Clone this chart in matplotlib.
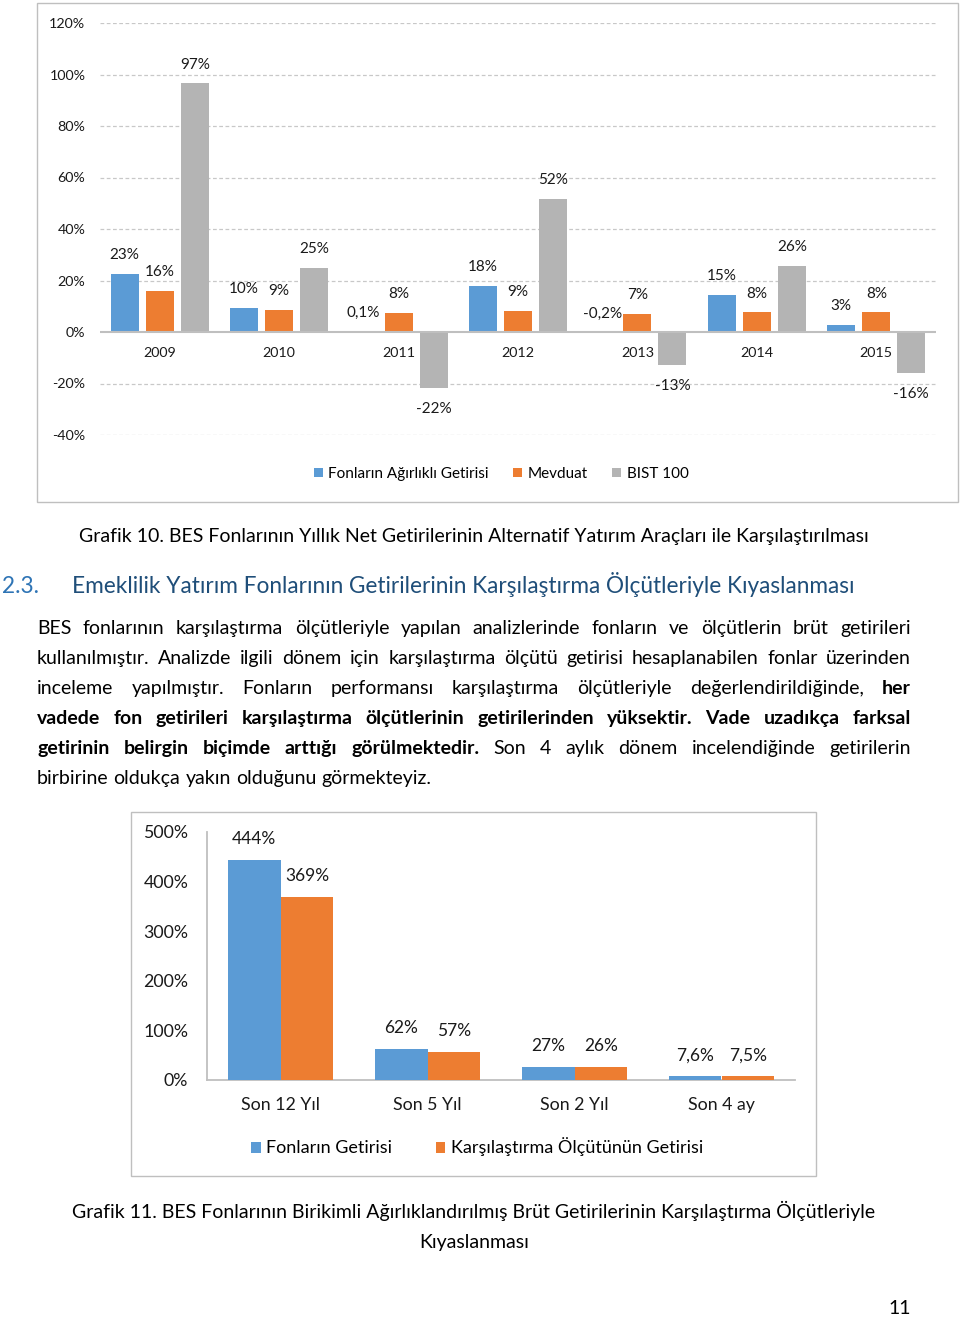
"""
BES fon getirileri: iki grafik ve ara metinden oluşan sayfanın yeniden çizimi.
"""

import matplotlib
matplotlib.use('Agg')
import matplotlib.pyplot as plt
from matplotlib.patches import Patch, Rectangle
from matplotlib.font_manager import FontProperties
import numpy as np

W, H = 960, 1317
FONT = ['Lato', 'DejaVu Sans']
plt.rcParams['font.family'] = FONT

MAVI = '#5B9BD5'
TURUNCU = '#ED7D31'
GRI = '#B4B4B4'

# Grafik 10 verileri
yillar = ['2009', '2010', '2011', '2012', '2013', '2014', '2015']
fon_getirisi = [22.7, 9.5, 0.1, 17.9, -0.2, 14.5, 2.7]
mevduat = [16.1, 8.5, 7.4, 8.3, 7.1, 7.6, 7.6]
bist100 = [96.6, 24.9, -21.9, 51.6, -13.0, 25.8, -16.0]
fon_etiket = ['23%', '10%', '0,1%', '18%', '-0,2%', '15%', '3%']
mevduat_etiket = ['16%', '9%', '8%', '9%', '7%', '8%', '8%']
bist_etiket = ['97%', '25%', '-22%', '52%', '-13%', '26%', '-16%']
seri_adlari_1 = ['Fonların Ağırlıklı Getirisi', 'Mevduat', 'BIST 100']
y_ticks_1 = [-40, -20, 0, 20, 40, 60, 80, 100, 120]

# Grafik 11 verileri
donemler = ['Son 12 Yıl', 'Son 5 Yıl', 'Son 2 Yıl', 'Son 4 ay']
fonlar = [444, 62, 27, 7.6]
olcut = [369, 57, 26, 7.5]
fon_etiket_2 = ['444%', '62%', '27%', '7,6%']
olcut_etiket_2 = ['369%', '57%', '26%', '7,5%']
seri_adlari_2 = ['Fonların Getirisi', 'Karşılaştırma Ölçütünün Getirisi']
y_ticks_2 = [0, 100, 200, 300, 400, 500]

# Metinler
baslik_no = '2.3.'
baslik = 'Emeklilik Yatırım Fonlarının Getirilerinin Karşılaştırma Ölçütleriyle Kıyaslanması'
grafik10_adi = 'Grafik 10. BES Fonlarının Yıllık Net Getirilerinin Alternatif Yatırım Araçları ile Karşılaştırılması'
grafik11_adi = ['Grafik 11. BES Fonlarının Birikimli Ağırlıklandırılmış Brüt Getirilerinin Karşılaştırma Ölçütleriyle',
                'Kıyaslanması']
paragraf = [
    [('BES fonlarının karşılaştırma ölçütleriyle yapılan analizlerinde fonların ve ölçütlerin brüt getirileri', 'normal')],
    [('kullanılmıştır. Analizde ilgili dönem için karşılaştırma ölçütü getirisi hesaplanabilen fonlar üzerinden', 'normal')],
    [('inceleme yapılmıştır. Fonların performansı karşılaştırma ölçütleriyle değerlendirildiğinde,', 'normal'),
     ('her', 'bold')],
    [('vadede fon getirileri karşılaştırma ölçütlerinin getirilerinden yüksektir. Vade uzadıkça farksal', 'bold')],
    [('getirinin belirgin biçimde arttığı görülmektedir.', 'bold'),
     ('Son 4 aylık dönem incelendiğinde getirilerin', 'normal')],
    [('birbirine oldukça yakın olduğunu görmekteyiz.', 'normal')],
]
sayfa_no = '11'

METIN_PUNTO = 14.0


def kutu(x0, y0, x1, y1):
    """Piksel kutusunu (üstten ölçülen) figür oranına çevirir."""
    return [x0 / W, 1 - y1 / H, (x1 - x0) / W, (y1 - y0) / H]


def px(x, y):
    return x / W, 1 - y / H


def cerceve(fig, x0, y0, x1, y1):
    fig.patches.append(Rectangle(px(x0, y1), (x1 - x0) / W, (y1 - y0) / H,
                                 transform=fig.transFigure, fill=False,
                                 edgecolor='#BFBFBF', linewidth=1.0))


def iki_yana_yasla(fig, renderer, parcalar, x0, x1, y, size, yasla=True):
    kelimeler = []
    for metin, agirlik in parcalar:
        for k in metin.split():
            kelimeler.append((k, agirlik))
    props = {a: FontProperties(family=FONT, size=size, weight=a) for a in ('normal', 'bold')}
    genislik = [renderer.get_text_width_height_descent(k, props[a], ismath=False)[0] for k, a in kelimeler]
    bosluk = (renderer.get_text_width_height_descent('a a', props['normal'], ismath=False)[0]
              - renderer.get_text_width_height_descent('aa', props['normal'], ismath=False)[0])
    if yasla and len(kelimeler) > 1:
        bosluk = (x1 - x0 - sum(genislik)) / (len(kelimeler) - 1)
    x = x0
    for (k, a), g in zip(kelimeler, genislik):
        fig.text(*px(x, y), k, ha='left', va='baseline', fontsize=size,
                 fontweight=a, color='black')
        x += g + bosluk


fig = plt.figure(figsize=(W / 100, H / 100), dpi=100)
fig.patch.set_facecolor('white')

# ---------------- Grafik 10 ----------------
cerceve(fig, 37, 3, 958, 502)
ax1 = fig.add_axes(kutu(100, 23, 936, 435))
x = np.arange(len(yillar))
gen = 0.234
ofs = 0.293
seriler = [(fon_getirisi, fon_etiket, MAVI, -ofs),
           (mevduat, mevduat_etiket, TURUNCU, 0),
           (bist100, bist_etiket, GRI, ofs)]
for degerler, etiketler, renk, kayma in seriler:
    ax1.bar(x + kayma, degerler, width=gen, color=renk, zorder=3)
    for xi, v, e in zip(x + kayma, degerler, etiketler):
        dy = 13.5 if v > -1 else -15
        ax1.annotate(e, (xi, v), xytext=(0, dy), textcoords='offset points',
                     ha='center', va='center', fontsize=11, color='#1a1a1a')

ax1.set_xlim(-0.5, len(yillar) - 0.5)
ax1.set_ylim(-40, 120)
ax1.set_yticks(y_ticks_1)
ax1.set_yticklabels([f'{t}%' for t in y_ticks_1], fontsize=10.3, color='#1a1a1a')
ax1.tick_params(axis='y', length=0, pad=10.5)
ax1.set_xticks([])
for s in ax1.spines.values():
    s.set_visible(False)
for t in y_ticks_1:
    if t != 0:
        ax1.axhline(t, color='#C8C8C8', linestyle=(0, (3, 2)), linewidth=0.9, zorder=1)
ax1.axhline(0, color='#BFBFBF', linewidth=1.5, zorder=4)
for xi, yil in zip(x, yillar):
    ax1.annotate(yil, (xi, 0), xytext=(0, -15), textcoords='offset points',
                 ha='center', va='center', fontsize=10.3, color='#1a1a1a')

el1 = [Patch(facecolor=c) for c in (MAVI, TURUNCU, GRI)]
fig.legend(el1, seri_adlari_1, loc='center', bbox_to_anchor=px(501, 474), ncol=3,
           frameon=False, fontsize=11, handlelength=0.6, handleheight=0.6,
           handletextpad=0.35, columnspacing=1.6)

# ---------------- Grafik 11 ----------------
cerceve(fig, 131, 812, 816, 1176)
ax2 = fig.add_axes(kutu(207, 832, 795, 1080))
x2 = np.arange(len(donemler))
gen2 = 0.36
ax2.bar(x2 - gen2 / 2, fonlar, width=gen2, color=MAVI, zorder=3)
ax2.bar(x2 + gen2 / 2, olcut, width=gen2, color=TURUNCU, zorder=3)
for xi, v, e in zip(x2 - gen2 / 2, fonlar, fon_etiket_2):
    ax2.annotate(e, (xi, v), xytext=(0, 15), textcoords='offset points',
                 ha='center', va='center', fontsize=12.5, color='#1a1a1a')
for xi, v, e in zip(x2 + gen2 / 2, olcut, olcut_etiket_2):
    ax2.annotate(e, (xi, v), xytext=(0, 15), textcoords='offset points',
                 ha='center', va='center', fontsize=12.5, color='#1a1a1a')
ax2.set_xlim(-0.5, len(donemler) - 0.5)
ax2.set_ylim(0, 500)
ax2.set_yticks(y_ticks_2)
ax2.set_yticklabels([f'{t}%' for t in y_ticks_2], fontsize=12.8, color='#1a1a1a')
ax2.tick_params(axis='y', length=0, pad=13.5)
ax2.set_xticks(x2)
ax2.set_xticklabels(donemler, fontsize=12.8, color='#1a1a1a')
ax2.tick_params(axis='x', length=0, pad=12.5)
for k in ('top', 'right'):
    ax2.spines[k].set_visible(False)
for k in ('left', 'bottom'):
    ax2.spines[k].set_color('#BFBFBF')
    ax2.spines[k].set_linewidth(1.3)

el2 = [Patch(facecolor=c) for c in (MAVI, TURUNCU)]
fig.legend(el2, seri_adlari_2, loc='center', bbox_to_anchor=px(477, 1147), ncol=2,
           frameon=False, fontsize=13, handlelength=0.55, handleheight=0.55,
           handletextpad=0.3, columnspacing=2.4)

# ---------------- Metinler ----------------
fig.text(*px(474, 542), grafik10_adi, ha='center', va='baseline', fontsize=METIN_PUNTO)
fig.text(*px(2, 593), baslik_no, ha='left', va='baseline', fontsize=16.3, color='#2E74B5')
fig.text(*px(72, 593), baslik, ha='left', va='baseline', fontsize=16.3, color='#1F4E79')

renderer = fig.canvas.get_renderer()
for i, satir in enumerate(paragraf):
    son = i == len(paragraf) - 1
    iki_yana_yasla(fig, renderer, satir, 37, 911, 634 + 30 * i, METIN_PUNTO, yasla=not son)

fig.text(*px(474, 1218), grafik11_adi[0], ha='center', va='baseline', fontsize=METIN_PUNTO)
fig.text(*px(474, 1248), grafik11_adi[1], ha='center', va='baseline', fontsize=METIN_PUNTO)
fig.text(*px(900, 1314), sayfa_no, ha='center', va='baseline', fontsize=METIN_PUNTO)

fig.savefig('out.png', dpi=100, facecolor='white')
